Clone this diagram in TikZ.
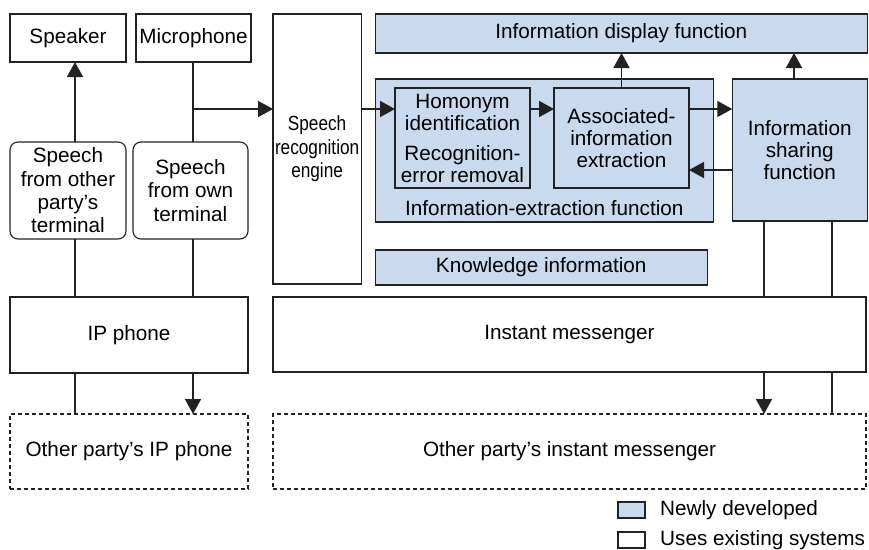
\documentclass[tikz,border=0pt]{standalone}
\usepackage{fontspec}
\setmainfont{Liberation Sans}
\newfontfamily\narrowfont[FakeStretch=0.84]{Liberation Sans}
\usepackage{tikz}
\usetikzlibrary{arrows.meta,positioning,calc}
\definecolor{newblue}{HTML}{C9D9EE}
\definecolor{linegray}{HTML}{222222}

\begin{document}
\begin{tikzpicture}[
  x=1pt, y=-1pt,
  font=\fontsize{20.7}{22}\selectfont,
  box/.style={draw=linegray,line width=1.1pt,outer sep=0pt,inner sep=2pt,align=center},
  oldbox/.style={box,fill=white},
  newbox/.style={box,fill=newblue},
  speechbox/.style={oldbox,rounded corners=8pt,font=\fontsize{20.7}{23.3}\selectfont},
  otherbox/.style={oldbox,dash pattern=on 4pt off 3pt},
  arr/.style={-{Triangle[length=15pt,width=16pt]},line width=1.6pt,draw=linegray},
  lin/.style={line width=1.6pt,draw=linegray}
]
\useasboundingbox (0,0) rectangle (869,549);

% existing systems, left column
\node[oldbox,minimum width=116pt,minimum height=48pt,anchor=north west] (speaker) at (10,14) {Speaker};
\node[oldbox,minimum width=115pt,minimum height=48pt,right=10pt of speaker] (mic) {Microphone};
\node[speechbox,minimum width=116pt,minimum height=97pt,anchor=north west] (sother) at (10,142) {Speech\\from other\\party's\\terminal};
\node[speechbox,minimum width=115pt,minimum height=97pt,right=7pt of sother] (sown) {Speech\\from own\\terminal};
\node[oldbox,minimum width=238pt,minimum height=76pt,below=58pt of sother.south west,anchor=north west] (ipphone) {IP phone};
\node[otherbox,minimum width=238pt,minimum height=75pt,below=41pt of ipphone.south west,anchor=north west] (otherip) {Other party's IP phone};

% recognition engine and messenger
\node[oldbox,minimum width=87pt,minimum height=270pt,right=22pt of mic.north east,anchor=north west,
  font=\narrowfont\fontsize{20.5}{23.5}\selectfont] (engine) {Speech\\recognition\\engine};
\node[oldbox,minimum width=593pt,minimum height=75pt,below=13pt of engine.south west,anchor=north west] (im) {Instant messenger};
\node[otherbox,minimum width=593pt,minimum height=75pt,below=42pt of im.south west,anchor=north west] (otherim) {Other party's instant messenger};

% newly developed functions
\node[newbox,minimum width=492pt,minimum height=39pt,right=14pt of engine.north east,anchor=north west] (display) {Information display function};
\node[newbox,minimum width=338pt,minimum height=143pt,below=26pt of display.south west,anchor=north west] (extract) {};
\node[anchor=south,inner sep=0pt] (extlabel) at ([yshift=6pt]extract.south) {Information-extraction function};
\node[newbox,minimum width=135pt,minimum height=100pt,anchor=north west] (homonym) at (395,88) {Homonym\\identification\\[8pt]Recognition-\\error removal};
\node[newbox,minimum width=135pt,minimum height=100pt,right=24pt of homonym] (assoc) {Associated-\\information\\extraction};
\node[newbox,minimum width=135pt,minimum height=142pt,below=26pt of display.south east,anchor=north east] (sharing) {Information\\sharing\\function};
\node[newbox,minimum width=332pt,minimum height=35pt,below=28pt of extract.south west,anchor=north west] (knowledge) {Knowledge information};

% legend
\node[newbox,minimum width=27pt,minimum height=16pt,inner sep=0pt,anchor=north west] (legnew) at (618,502) {};
\node[right=15pt of legnew,inner sep=0pt] (legnewtxt) {Newly developed};
\node[oldbox,minimum width=27pt,minimum height=16pt,inner sep=0pt,below=14pt of legnew] (legold) {};
\node[right=15pt of legold,inner sep=0pt] (legoldtxt) {Uses existing systems};

% connector columns
\coordinate (cspk) at (75,0);
\coordinate (cmic) at (193,0);
\coordinate (ctap) at (0,109);
\coordinate (cret) at (0,170);
\coordinate (cshr) at (794,0);
\coordinate (cdn) at (764,0);
\coordinate (cup) at (832,0);

\draw[arr] (sother.north -| cspk) -- (speaker.south -| cspk);
\draw[lin] (mic.south -| cmic) -- (sown.north -| cmic);
\draw[arr] (cmic |- ctap) -- (engine.west |- ctap);
\draw[lin] (sother.south -| cspk) -- (ipphone.north -| cspk);
\draw[lin] (sown.south -| cmic) -- (ipphone.north -| cmic);
\draw[lin] (ipphone.south -| cspk) -- (otherip.north -| cspk);
\draw[arr] (ipphone.south -| cmic) -- (otherip.north -| cmic);

\draw[arr] (engine.east |- ctap) -- (homonym.west |- ctap);
\draw[arr] (homonym.east |- ctap) -- (assoc.west |- ctap);
\draw[arr] (assoc.east |- ctap) -- (sharing.west |- ctap);
\draw[arr] (sharing.west |- cret) -- (assoc.east |- cret);
\draw[arr] (assoc.north) -- (display.south -| assoc.north);
\draw[arr] (sharing.north -| cshr) -- (display.south -| cshr);

\draw[lin] (sharing.south -| cdn) -- (im.north -| cdn);
\draw[lin] (sharing.south -| cup) -- (im.north -| cup);
\draw[arr] (im.south -| cdn) -- (otherim.north -| cdn);
\draw[lin] (im.south -| cup) -- (otherim.north -| cup);
\end{tikzpicture}
\end{document}
